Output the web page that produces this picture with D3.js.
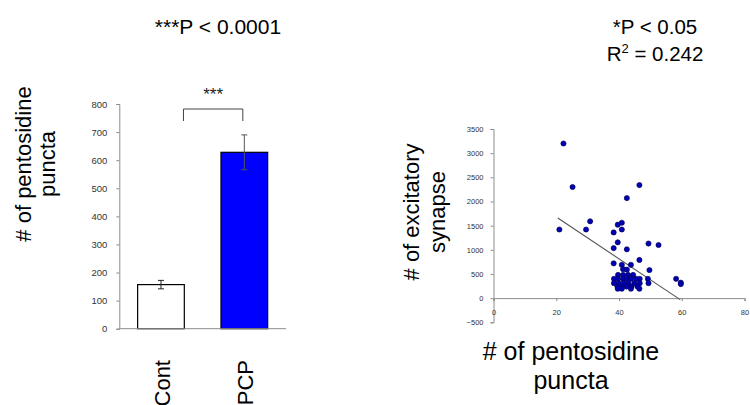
<!DOCTYPE html>
<html><head><meta charset="utf-8">
<script src="https://cdn.jsdelivr.net/npm/d3@7"></script>
<style>body{margin:0;background:#fff}svg{display:block}text{font-family:"Liberation Sans",Arial,sans-serif}</style>
</head><body><svg id="c" width="750" height="405"></svg>
<script>
// ---- data ----
const barCategories = ["Cont", "PCP"];
const barValues = [157, 628];
const barErrors = [15, 62];
const barTicks = [0, 100, 200, 300, 400, 500, 600, 700, 800];

const scatterX = [22.3, 25.2, 46.5, 42.5, 21, 30.8, 29.5, 40.9, 39.6, 40.9, 38.3, 39.6, 49.4, 52.6, 38.3, 42.5, 46.5, 38.3, 40.9, 43.8, 41.3, 42.5, 49.7, 58.2, 59.7, 59.7,
  39.7, 41.3, 42.9, 44.5,
  38.4, 39.7, 41.3, 42.6, 43.9, 45.5, 46.6, 49.2,
  38.4, 39.9, 41.5, 43.0, 44.9, 46.6, 49.4,
  39.5, 40.8, 42.4, 44.0, 45.9,
  39.6, 40.9, 43.8, 46.5];
const scatterY = [3200, 2300, 2340, 2070, 1420, 1590, 1420, 1560, 1520, 1420, 1360, 1155, 1130, 1100, 1035, 1010, 790, 720, 690, 690, 600, 590, 580, 400, 320, 290,
  480, 480, 480, 480,
  400, 400, 400, 400, 400, 400, 400, 400,
  310, 310, 310, 310, 310, 310, 310,
  240, 240, 240, 240, 240,
  195, 195, 195, 195];
const trendSlope = -43.3;
const trendIntercept = 2545;
const trendRange = [20.5, 59.5];
const scatterXTicks = [0, 20, 40, 60, 80];
const scatterYTicks = [-500, 0, 500, 1000, 1500, 2000, 2500, 3000, 3500];

const svg = d3.select("#c");
const fmt = d3.format("d");

// ---- bar chart ----
const by = d3.scaleLinear().domain([0, 800]).range([328.7, 104]);
const bx = d3.scaleBand().domain(barCategories).range([119.3, 286]).paddingInner(0.44).paddingOuter(0.22);
const bg = svg.append("g");
const byAxis = bg.append("g").attr("transform", "translate(119.3,0)")
  .call(d3.axisLeft(by).tickValues(barTicks).tickFormat(fmt).tickSize(3).tickPadding(9));
byAxis.select(".domain").attr("stroke", "#8c8c8c");
byAxis.selectAll(".tick line").attr("stroke", "#8c8c8c");
byAxis.selectAll(".tick text").attr("font-size", 9.5).attr("fill", "#333").attr("font-family", "'Liberation Sans',Arial,sans-serif");

bg.selectAll("rect.bar").data(barValues).join("rect")
  .attr("x", (d, i) => bx(barCategories[i]))
  .attr("y", d => by(d))
  .attr("width", bx.bandwidth())
  .attr("height", d => by(0) - by(d))
  .attr("fill", (d, i) => i === 0 ? "#fff" : "#0000ff")
  .attr("stroke", "#000").attr("stroke-width", 1.2);

bg.append("line").attr("x1", 119.3).attr("x2", 286).attr("y1", by(0)).attr("y2", by(0)).attr("stroke", "#8c8c8c");

barValues.forEach((v, i) => {
  const cx = bx(barCategories[i]) + bx.bandwidth() / 2;
  const e = barErrors[i];
  const col = i === 0 ? "#222" : "#555";
  bg.append("line").attr("x1", cx).attr("x2", cx).attr("y1", by(v + e)).attr("y2", by(v - e)).attr("stroke", col).attr("stroke-width", 1);
  [v + e, v - e].forEach(t => bg.append("line").attr("x1", cx - 3).attr("x2", cx + 3).attr("y1", by(t)).attr("y2", by(t)).attr("stroke", col).attr("stroke-width", 1));
  bg.append("text").attr("transform", `translate(${cx + 9},360) rotate(-90)`)
    .attr("text-anchor", "end").attr("font-size", 22).attr("fill", "#000").text(barCategories[i]);
});

// significance bracket
const bxa = bx(barCategories[0]) + bx.bandwidth() / 2 + 22.5;
const bxb = bx(barCategories[1]) + bx.bandwidth() / 2 - 1.5;
bg.append("path").attr("d", `M${bxa},121V109H${bxb}V121`).attr("fill", "none").attr("stroke", "#444").attr("stroke-width", 1);
bg.append("text").attr("x", (bxa + bxb) / 2).attr("y", 100).attr("text-anchor", "middle").attr("font-size", 17).attr("fill", "#222").text("***");

// titles
bg.append("text").attr("x", 218).attr("y", 34).attr("text-anchor", "middle").attr("font-size", 21).text("***P < 0.0001");
const byt = bg.append("text").attr("transform", "translate(31,164) rotate(-90)").attr("text-anchor", "middle").attr("font-size", 22);
byt.append("tspan").attr("x", 0).attr("y", 0).text("# of pentosidine");
byt.append("tspan").attr("x", 0).attr("y", 23.5).text("puncta");

// ---- scatter ----
const sx = d3.scaleLinear().domain([0, 80]).range([493.5, 744.5]);
const sy = d3.scaleLinear().domain([-500, 3500]).range([322.3, 129]);
const sg = svg.append("g");
const syAxis = sg.append("g").attr("transform", `translate(${sx(0)},0)`)
  .call(d3.axisLeft(sy).tickValues(scatterYTicks).tickFormat(fmt).tickSize(3).tickPadding(7));
syAxis.select(".domain").attr("stroke", "#8c8c8c");
syAxis.selectAll(".tick line").attr("stroke", "#8c8c8c");
syAxis.selectAll(".tick text").attr("font-size", 7.5).attr("fill", "#333").attr("font-family", "'Liberation Sans',Arial,sans-serif");
const sxAxis = sg.append("g").attr("transform", `translate(0,${sy(0)})`)
  .call(d3.axisBottom(sx).tickValues(scatterXTicks).tickFormat(fmt).tickSize(3).tickPadding(9));
sxAxis.select(".domain").attr("stroke", "#8c8c8c");
sxAxis.selectAll(".tick line").attr("stroke", "#8c8c8c");
sxAxis.selectAll(".tick text").attr("font-size", 7.5).attr("fill", "#333").attr("font-family", "'Liberation Sans',Arial,sans-serif");

sg.append("line")
  .attr("x1", sx(trendRange[0])).attr("y1", sy(trendIntercept + trendSlope * trendRange[0]))
  .attr("x2", sx(trendRange[1])).attr("y2", sy(trendIntercept + trendSlope * trendRange[1]))
  .attr("stroke", "#555").attr("stroke-width", 1.1);

sg.selectAll("circle").data(scatterX).join("circle")
  .attr("cx", d => sx(d)).attr("cy", (d, i) => sy(scatterY[i])).attr("r", 2.6)
  .attr("fill", "#0000b4").attr("stroke", "#000050").attr("stroke-width", 0.6);

sg.append("text").attr("x", 655).attr("y", 34).attr("text-anchor", "middle").attr("font-size", 20.5).text("*P < 0.05");
const r2 = sg.append("text").attr("x", 655).attr("y", 61).attr("text-anchor", "middle").attr("font-size", 20.5);
r2.append("tspan").text("R");
r2.append("tspan").attr("font-size", 13).attr("dy", -8).text("2");
r2.append("tspan").attr("dy", 8).text(" = 0.242");

const syt = sg.append("text").attr("transform", "translate(419,212) rotate(-90)").attr("text-anchor", "middle").attr("font-size", 22);
syt.append("tspan").attr("x", 0).attr("y", 0).text("# of excitatory");
syt.append("tspan").attr("x", 0).attr("y", 26).text("synapse");
sg.append("text").attr("x", 571).attr("y", 360).attr("text-anchor", "middle").attr("font-size", 25).text("# of pentosidine");
sg.append("text").attr("x", 571).attr("y", 389).attr("text-anchor", "middle").attr("font-size", 25).text("puncta");
</script></body></html>
